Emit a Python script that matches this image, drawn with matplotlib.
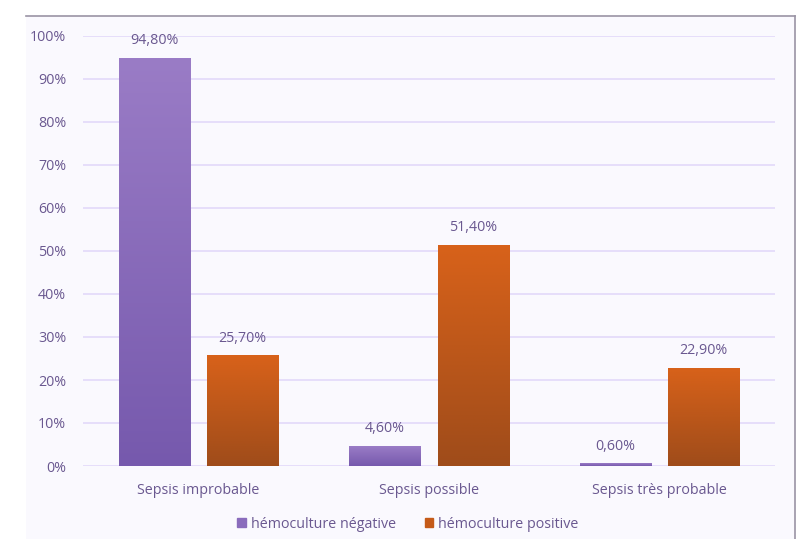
import numpy as np
import matplotlib
matplotlib.use('Agg')
import matplotlib.pyplot as plt
from matplotlib.patches import Rectangle
from matplotlib.colors import LinearSegmentedColormap

categories = ['Sepsis improbable', 'Sepsis possible', 'Sepsis très probable']
negative = [94.8, 4.6, 0.6]
positive = [25.7, 51.4, 22.9]
labels_neg = ['94,80%', '4,60%', '0,60%']
labels_pos = ['25,70%', '51,40%', '22,90%']
series_names = ['hémoculture négative', 'hémoculture positive']
yticks = [0, 10, 20, 30, 40, 50, 60, 70, 80, 90, 100]

plt.rcParams['font.family'] = ['Open Sans', 'DejaVu Sans']
text_color = '#6a5890'
fs = 10.3

fig = plt.figure(figsize=(8.09, 5.39), dpi=100)
fig.patch.set_facecolor('white')

# chart background panel, drawn in its own axes behind the plot
bg = fig.add_axes([26 / 809, 0, (795 - 26) / 809, 1 - 16 / 539], zorder=-5)
bg.set_facecolor('#faf9fe')
bg.set_xticks([])
bg.set_yticks([])
for side in ['left', 'bottom']:
    bg.spines[side].set_visible(False)
for side in ['top', 'right']:
    bg.spines[side].set_color('#9a94a4')
    bg.spines[side].set_linewidth(1.2)

ax = fig.add_axes([83 / 809, 1 - 466 / 539, (775 - 83) / 809, (466 - 36) / 539])
ax.set_facecolor('none')

for y in yticks:
    ax.axhline(y, color='#e4dcfa', lw=1.3, zorder=1)

purple_cmap = LinearSegmentedColormap.from_list('p', ['#7659ad', '#9a7cc6'])
orange_cmap = LinearSegmentedColormap.from_list('o', ['#9f4c1a', '#d8621a'])

width = 0.308
gap = 0.074
x = np.arange(len(categories)) + 0.5
grad = np.linspace(0, 1, 256).reshape(-1, 1)


def gradient_bars(xs, vals, cmap):
    bars = ax.bar(xs, vals, width, color='none', zorder=2)
    for b in bars:
        x0, y0 = b.get_x(), b.get_y()
        w, h = b.get_width(), b.get_height()
        im = ax.imshow(grad, cmap=cmap, origin='lower', aspect='auto',
                       extent=[x0, x0 + w, y0, y0 + h], zorder=2)
        im.set_clip_path(b)
    return bars


bn = gradient_bars(x - (width + gap) / 2, negative, purple_cmap)
bp = gradient_bars(x + (width + gap) / 2, positive, orange_cmap)
ax.set_xlim(0, 3)
ax.set_ylim(0, 100)

for b, lab in zip(bn, labels_neg):
    ax.text(b.get_x() + b.get_width() / 2, b.get_height() + 2.3, lab,
            ha='center', va='bottom', fontsize=fs, color=text_color)
for b, lab in zip(bp, labels_pos):
    ax.text(b.get_x() + b.get_width() / 2, b.get_height() + 2.3, lab,
            ha='center', va='bottom', fontsize=fs, color=text_color)

ax.set_yticks(yticks)
ax.set_yticklabels([f'{v}%' for v in yticks], fontsize=fs, color=text_color)
ax.set_xticks(x)
ax.set_xticklabels(categories, fontsize=fs, color=text_color)
ax.tick_params(axis='both', length=0)
ax.tick_params(axis='y', pad=12)
ax.tick_params(axis='x', pad=12)
for s in ax.spines.values():
    s.set_visible(False)

handles = [Rectangle((0, 0), 1, 1, color='#8a6cbc'),
           Rectangle((0, 0), 1, 1, color='#c55a18')]
fig.legend(handles, series_names, loc='center', bbox_to_anchor=(408 / 809, 1 - 524 / 539),
           ncol=2, frameon=False, fontsize=fs, labelcolor=text_color,
           handlelength=0.6, handleheight=0.6, handletextpad=0.35, columnspacing=2.0)

fig.savefig('out.png', dpi=100, facecolor=fig.get_facecolor())
